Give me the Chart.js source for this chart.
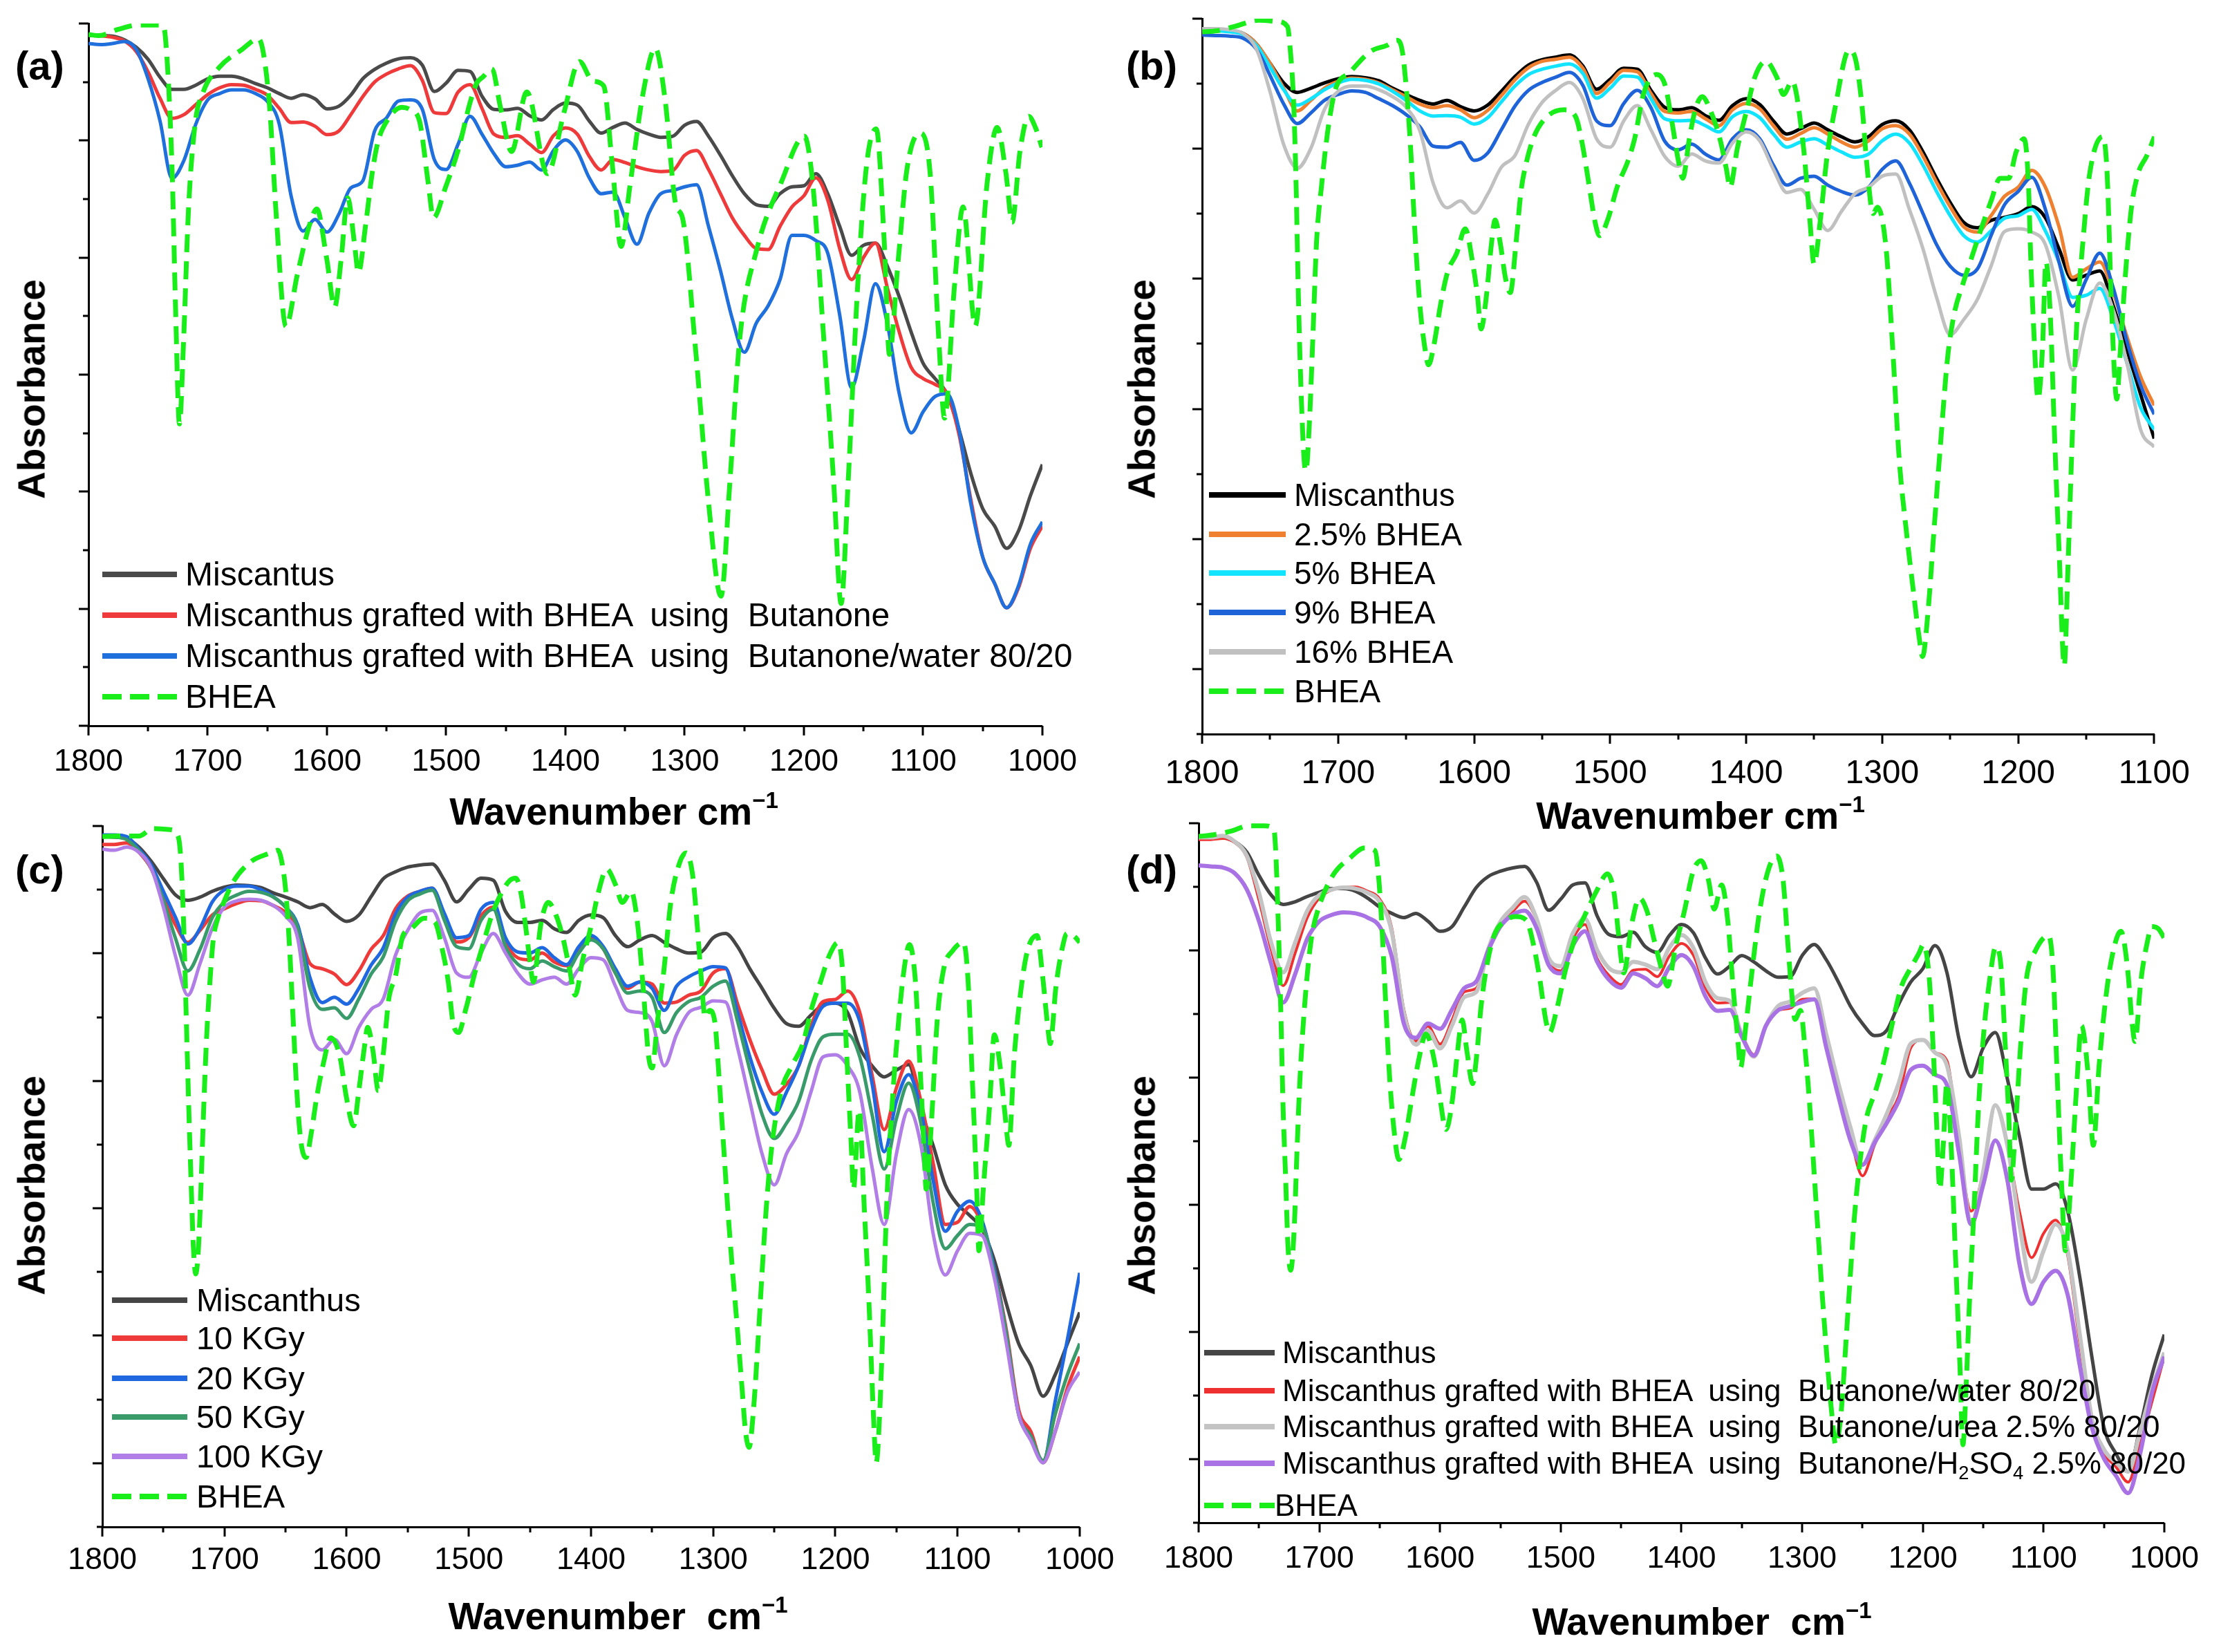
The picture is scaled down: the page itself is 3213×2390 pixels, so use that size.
<!DOCTYPE html>
<html>
<head>
<meta charset="utf-8">
<title>FTIR spectra of grafted Miscanthus</title>
<script src="https://cdn.jsdelivr.net/npm/chart.js@4.4.1/dist/chart.umd.min.js"></script>
<style>
  html, body { margin: 0; padding: 0; background: #fff; }
  body { position: relative; width: 3213px; height: 2390px; overflow: hidden;
         font-family: 'Liberation Sans', Arial, Helvetica, sans-serif; color: #000; }
  canvas { position: absolute; }
  .panel-label { position: absolute; font-weight: bold; font-size: 58px; line-height: 1; transform: translateY(-50%); }
  .x-title, .y-title { position: absolute; font-weight: bold; font-size: 55px; line-height: 1; white-space: pre; }
  .x-title { transform: translate(-50%, -50%); }
  .y-title { transform: translate(-50%, -50%) rotate(-90deg); }
  .x-title sup { font-size: 60%; position: relative; top: -0.15em; }
  .legend-row { position: absolute; display: flex; align-items: center; white-space: pre; line-height: 1; }
  .legend-row svg { flex: none; }
  .legend-row sub { font-size: 62%; vertical-align: -0.3em; line-height: 0; }
</style>
</head>
<body>
<canvas id="chartA"></canvas>
<canvas id="chartB"></canvas>
<canvas id="chartC"></canvas>
<canvas id="chartD"></canvas>

<div class="panel-label" style="left:22px;top:95px">(a)</div>
<div class="panel-label" style="left:1629px;top:95px">(b)</div>
<div class="panel-label" style="left:22px;top:1258px">(c)</div>
<div class="panel-label" style="left:1629px;top:1258px">(d)</div>

<div class="y-title" style="left:46px;top:563px">Absorbance</div>
<div class="y-title" style="left:1652px;top:563px">Absorbance</div>
<div class="y-title" style="left:46px;top:1715px">Absorbance</div>
<div class="y-title" style="left:1652px;top:1715px">Absorbance</div>

<div class="x-title" style="left:888px;top:1174px">Wavenumber cm<sup>−1</sup></div>
<div class="x-title" style="left:2460px;top:1180px">Wavenumber cm<sup>−1</sup></div>
<div class="x-title" style="left:894px;top:2338px">Wavenumber  cm<sup>−1</sup></div>
<div class="x-title" style="left:2462px;top:2346px">Wavenumber  cm<sup>−1</sup></div>

<script>
// wavenumber grid (cm-1) shared by the sample spectra
const wavenumbers = [1800, 1790, 1780, 1770, 1760, 1750, 1740, 1730, 1720, 1710,
  1700, 1690, 1680, 1670, 1660, 1650, 1640, 1630, 1620, 1610,
  1600, 1590, 1580, 1570, 1560, 1550, 1540, 1530, 1520, 1510,
  1500, 1490, 1480, 1470, 1460, 1450, 1440, 1430, 1420, 1410,
  1400, 1390, 1380, 1370, 1360, 1350, 1340, 1330, 1320, 1310,
  1300, 1290, 1280, 1270, 1260, 1250, 1240, 1230, 1220, 1210,
  1200, 1190, 1180, 1170, 1160, 1150, 1140, 1130, 1120, 1110,
  1100, 1090, 1080, 1070, 1060, 1050, 1040, 1030, 1020, 1010, 1000];
const wavenumbersB = wavenumbers.filter(w => w >= 1100);

// x tick labels
const tickLabels = [1800, 1700, 1600, 1500, 1400, 1300, 1200, 1100, 1000];

// ---- (a) solvent series (absorbance, arbitrary units) ----
const miscantusA = [131.0, 131.0, 130.9, 130.2, 128.8, 126.5, 123.1, 120.8, 120.8, 121.6,
  122.8, 123.3, 123.3, 122.8, 121.9, 121.1, 120.0, 119.1, 119.8, 119.0,
  117.1, 117.6, 119.7, 122.8, 124.6, 125.8, 126.6, 126.8, 125.4, 120.4,
  122.0, 124.4, 124.2, 119.5, 117.0, 116.9, 117.2, 115.8, 115.0, 117.0,
  118.2, 117.8, 114.8, 112.5, 113.6, 114.4, 113.2, 112.3, 111.7, 111.9,
  114.0, 114.7, 111.9, 108.3, 104.4, 101.0, 98.9, 98.6, 101.0, 102.3,
  102.5, 104.8, 101.0, 94.8, 89.3, 91.2, 91.6, 87.2, 81.4, 74.7,
  68.8, 65.9, 63.0, 56.3, 47.9, 41.2, 37.9, 33.7, 37.0, 43.7, 49.6];
const butanoneA = [131.2, 131.0, 130.7, 130.0, 128.0, 124.1, 119.1, 115.3, 116.0, 117.9,
  119.8, 121.1, 121.7, 121.6, 120.8, 119.7, 117.2, 114.5, 114.6, 113.8,
  112.2, 112.9, 116.0, 119.4, 122.2, 123.7, 124.7, 125.3, 122.5, 116.4,
  116.2, 120.3, 121.7, 117.2, 112.3, 111.7, 112.0, 110.4, 108.8, 112.0,
  113.5, 112.3, 108.1, 105.5, 107.5, 106.9, 106.1, 105.5, 105.2, 105.4,
  108.3, 109.2, 105.6, 101.0, 96.4, 93.1, 90.6, 90.4, 94.8, 98.5,
  100.6, 104.0, 99.8, 90.6, 84.7, 88.9, 91.6, 83.1, 74.7, 68.0,
  65.9, 64.8, 63.0, 55.4, 42.9, 32.0, 27.0, 22.4, 26.2, 33.7, 37.9];
const butanoneWaterA = [129.5, 129.3, 129.5, 129.9, 128.4, 122.8, 114.8, 103.9, 107.3, 114.2,
  118.8, 120.0, 120.7, 120.7, 120.0, 118.5, 114.2, 100.5, 93.9, 96.1,
  93.7, 97.1, 102.1, 103.4, 112.9, 115.4, 118.6, 118.8, 117.0, 107.5,
  105.6, 110.4, 115.7, 112.3, 108.6, 106.1, 106.4, 107.0, 105.5, 109.2,
  111.2, 109.0, 104.0, 101.0, 101.3, 96.4, 91.4, 97.3, 101.0, 101.6,
  102.3, 102.7, 94.8, 86.4, 77.2, 70.9, 76.4, 79.7, 84.7, 93.1,
  93.1, 92.1, 89.7, 78.0, 64.2, 73.0, 83.9, 76.3, 63.0, 55.6,
  59.6, 62.5, 63.0, 56.3, 42.1, 32.0, 27.0, 22.4, 26.6, 34.5, 38.7];
// BHEA reference spectrum as [wavenumber, absorbance]
const bheaA = [[1800, 131.2], [1791, 131.0], [1775, 132.2], [1758, 133.0], [1739, 133.0], [1736.5, 132.4],
  [1734.3, 127.2], [1732.4, 119.7], [1729.7, 104.2], [1727, 79.5], [1723.7, 57.3], [1720.2, 73.3],
  [1716.1, 98.1], [1710.6, 114.2], [1703.8, 120.3], [1690.2, 125.0], [1671.1, 128.4], [1657.5, 130.4],
  [1653.4, 127.8], [1648, 117.2], [1642.5, 96.8], [1634.4, 75.8], [1624.8, 85.7], [1613.9, 95.6],
  [1608.5, 98.1], [1600.3, 88.8], [1593.5, 79.5], [1588, 88.8], [1582.6, 100.2], [1577.1, 91.9],
  [1573.6, 86.0], [1567.6, 95.0], [1562, 105.0], [1557.4, 110.7], [1551.8, 114.0], [1537.1, 117.4],
  [1529.8, 116.9], [1522.4, 114.8], [1515.1, 103.1], [1510.7, 96.4], [1500.4, 102.3], [1489.3, 109.8],
  [1480.1, 118.2], [1474.6, 121.9], [1469, 123.2], [1461.8, 124.7], [1454.4, 117.3], [1445.2, 109.0],
  [1432.4, 120.3], [1415.1, 104.8], [1401.1, 116.5], [1388.2, 126.1], [1377.2, 122.4], [1368, 121.5],
  [1360.7, 106.5], [1353.3, 91.0], [1346, 102.3], [1335, 119.9], [1324.6, 128.6], [1316.5, 119.0],
  [1307.4, 98.9], [1301.8, 96.4], [1290.8, 71.3], [1279.8, 42.0], [1269.5, 24.6], [1262.1, 46.2],
  [1254, 73.0], [1239.3, 90.6], [1219.1, 103.1], [1199.6, 111.9], [1192.3, 102.3], [1184.2, 76.3],
  [1175, 46.2], [1168.8, 23.2], [1162.9, 46.2], [1154.8, 83.9], [1147.4, 106.5], [1139.3, 113.3],
  [1132.7, 92.2], [1128.3, 70.5], [1121, 88.1], [1113.6, 105.6], [1102.6, 112.5], [1094.1, 104.8],
  [1086.8, 73.0], [1082, 58.4], [1073.9, 83.0], [1066.5, 98.5], [1056.3, 75.9], [1046.3, 103.1],
  [1037.9, 113.6], [1030.5, 104.8], [1025.4, 95.6], [1018.8, 109.0], [1011.4, 115.7], [1005.9, 113.6],
  [1000.4, 109.8]];

// ---- (b) BHEA loading series ----
const miscanthusB = [133.7, 133.7, 133.5, 133.0, 131.0, 127.3, 123.6, 121.8, 122.6, 123.6,
  124.4, 124.8, 124.6, 124.0, 122.6, 121.4, 120.3, 119.6, 120.3, 119.1,
  118.3, 119.4, 122.0, 124.8, 127.0, 128.0, 128.5, 128.9, 126.8, 122.4,
  124.3, 126.4, 126.2, 122.2, 119.0, 118.5, 118.9, 117.4, 116.5, 119.3,
  120.6, 119.5, 116.4, 113.9, 114.9, 116.0, 114.7, 113.4, 112.4, 113.4,
  115.7, 116.4, 114.7, 110.5, 105.5, 100.9, 97.1, 96.1, 97.5, 98.1,
  98.8, 100.1, 98.0, 92.1, 86.2, 87.1, 87.9, 81.2, 72.9, 64.5, 56.1];
const bhea25B = [133.7, 133.7, 133.5, 133.0, 131.0, 127.3, 122.6, 118.3, 120.3, 122.6,
  123.9, 124.5, 124.3, 123.6, 122.3, 121.0, 119.6, 118.9, 119.3, 118.5,
  117.0, 118.4, 121.2, 124.2, 126.5, 127.7, 128.1, 128.5, 126.4, 121.6,
  123.7, 126.0, 125.7, 121.6, 118.2, 117.9, 118.2, 116.8, 115.5, 118.5,
  119.7, 118.7, 115.5, 112.9, 114.0, 115.1, 113.9, 112.4, 111.4, 112.6,
  114.9, 115.5, 113.9, 109.7, 104.7, 100.1, 96.3, 95.3, 98.4, 102.1,
  103.8, 107.0, 103.8, 96.3, 86.7, 88.3, 89.6, 83.7, 75.4, 67.8, 62.4];
const bhea5B = [133.5, 133.5, 133.3, 132.8, 130.7, 126.6, 122.3, 119.4, 120.6, 122.3,
  123.6, 124.3, 124.1, 123.4, 122.0, 120.3, 118.3, 117.3, 117.4, 117.1,
  115.8, 117.0, 120.0, 123.0, 125.2, 126.2, 126.8, 127.2, 125.4, 120.7,
  122.6, 124.9, 124.7, 120.6, 116.8, 116.4, 116.5, 115.5, 114.3, 117.2,
  118.2, 117.0, 113.9, 111.4, 112.4, 113.0, 111.8, 110.5, 109.5, 110.1,
  112.6, 113.9, 112.2, 108.0, 103.0, 98.4, 94.6, 93.4, 95.5, 97.9,
  98.4, 99.6, 95.5, 89.6, 82.9, 83.3, 84.6, 78.7, 70.4, 62.0, 57.8];
const bhea9B = [132.7, 132.6, 132.5, 132.1, 130.0, 125.0, 119.6, 115.9, 117.9, 120.3,
  121.4, 122.1, 121.8, 120.6, 119.3, 117.6, 115.3, 111.6, 111.4, 112.3,
  108.9, 110.3, 114.7, 119.2, 122.2, 123.7, 124.7, 125.6, 123.1, 116.4,
  115.5, 119.7, 122.2, 118.9, 112.6, 110.9, 112.0, 110.1, 109.0, 113.0,
  114.7, 113.0, 108.0, 104.2, 105.5, 105.9, 104.2, 103.0, 102.3, 103.8,
  107.2, 108.8, 104.6, 98.8, 92.9, 88.8, 87.1, 88.3, 94.6, 100.5,
  103.0, 105.7, 99.6, 89.6, 81.2, 86.3, 91.3, 84.6, 74.5, 66.2, 60.7];
const bhea16B = [133.9, 133.9, 133.7, 133.0, 130.0, 121.9, 111.9, 107.4, 111.2, 118.6,
  122.0, 123.0, 123.0, 122.3, 121.0, 119.0, 114.6, 104.5, 99.9, 101.2,
  98.9, 102.5, 107.6, 109.8, 115.8, 119.9, 122.2, 123.7, 120.6, 113.0,
  111.4, 116.4, 119.3, 114.7, 109.7, 107.8, 110.1, 108.8, 108.4, 112.2,
  114.3, 112.6, 107.2, 102.8, 103.4, 99.6, 95.6, 99.2, 102.6, 103.8,
  105.9, 106.3, 99.6, 92.1, 82.9, 75.8, 78.7, 82.5, 88.8, 95.4,
  95.9, 95.3, 92.9, 82.9, 69.1, 78.7, 85.6, 80.4, 70.4, 57.8, 54.5];
const bheaB = [[1800, 133.3], [1789, 133.5], [1776.3, 134.3], [1758.3, 135.5], [1745.5, 135.3], [1737.2, 134.3],
  [1735.2, 130.0], [1732.6, 119.3], [1730.8, 103.2], [1729.2, 83.1], [1727.4, 66.4], [1724.9, 51.7],
  [1723.6, 50.0], [1721, 59.7], [1718.4, 76.4], [1715.9, 93.2], [1712, 104.5], [1708.9, 111.9],
  [1705.6, 117.9], [1701.7, 122.6], [1691.4, 125.6], [1676, 129.6], [1664.4, 130.7], [1656.7, 131.7],
  [1652.8, 129.6], [1649, 119.9], [1646.4, 109.9], [1643.8, 96.5], [1640, 81.8], [1636.1, 73.1],
  [1633.5, 70.1], [1629.6, 73.8], [1624.5, 81.8], [1619.4, 87.8], [1612.9, 91.2], [1606.5, 95.9],
  [1601.3, 89.8], [1597.5, 83.1], [1594.9, 76.9], [1591, 83.1], [1587.2, 93.2], [1584.6, 97.6],
  [1580.8, 93.2], [1576.9, 86.5], [1573.4, 83.8], [1569.2, 93.2], [1565.5, 103.1], [1561.5, 108.6],
  [1556, 113.4], [1546.4, 117.2], [1533.5, 118.5], [1525.4, 117.2], [1520.6, 112.2], [1515.8, 104.7],
  [1511, 97.1], [1507.8, 94.6], [1501.3, 98.0], [1494.9, 103.8], [1486.9, 108.8], [1482, 113.0],
  [1475.6, 121.4], [1465.9, 125.2], [1459.5, 123.1], [1454.7, 116.4], [1449.8, 108.8], [1446.6, 105.5],
  [1441.8, 113.0], [1437, 118.9], [1432.2, 121.0], [1425.7, 118.0], [1419.3, 113.0], [1414.5, 107.2],
  [1411.9, 103.8], [1406.4, 111.3], [1400, 118.0], [1393.6, 124.7], [1385.5, 127.7], [1377.5, 124.7],
  [1372.6, 121.4], [1366.2, 123.9], [1358.2, 112.2], [1353.3, 98.0], [1350.1, 89.2], [1345.3, 98.0],
  [1340.5, 109.7], [1334, 119.7], [1324.4, 129.8], [1319.6, 128.1], [1314.7, 118.9], [1311.5, 108.8],
  [1306.7, 98.8], [1303.5, 100.0], [1297.1, 92.1], [1292.2, 72.9], [1287.4, 51.9], [1282.6, 39.4],
  [1277.7, 28.5], [1272.9, 18.5], [1270.3, 14.7], [1266.5, 22.6], [1261.7, 39.4], [1256.8, 56.1],
  [1252, 71.2], [1247.2, 79.6], [1240.7, 85.4], [1234.3, 90.4], [1227.9, 95.4], [1219.8, 101.3],
  [1213.4, 105.5], [1207, 105.5], [1201.5, 110.5], [1195.7, 113.0], [1192.5, 104.7], [1190.9, 91.3],
  [1188.6, 77.0], [1185.4, 63.6], [1182.2, 72.9], [1179.6, 89.6], [1176.4, 79.6], [1173.2, 56.1],
  [1170, 35.2], [1166.1, 13.0], [1163.5, 31.0], [1160.3, 56.1], [1157.1, 77.0], [1152.3, 93.8],
  [1147.5, 106.3], [1137.8, 113.4], [1134.6, 106.3], [1131.4, 81.2], [1127.5, 63.6], [1124.9, 72.9],
  [1121.7, 85.4], [1116.9, 99.6], [1112, 106.3], [1105.6, 109.7], [1099.8, 113.4]];

// ---- (c) irradiation dose series ----
const miscanthusC = [131.0, 130.9, 130.6, 129.0, 126.3, 123.0, 119.9, 118.9, 119.5, 120.6,
  121.4, 121.8, 121.7, 121.3, 120.3, 119.5, 118.6, 117.5, 118.1, 116.3,
  114.9, 116.1, 119.6, 123.0, 124.3, 125.2, 125.6, 125.8, 122.7, 118.6,
  121.0, 123.1, 122.7, 116.8, 114.7, 114.7, 115.1, 113.5, 112.8, 115.1,
  116.1, 115.6, 112.2, 110.1, 111.4, 112.2, 110.9, 109.7, 108.9, 109.1,
  111.8, 112.6, 110.1, 105.9, 102.2, 98.4, 95.5, 95.0, 97.1, 99.1,
  99.4, 97.6, 90.9, 87.5, 85.4, 86.7, 87.7, 79.1, 72.4, 64.9,
  61.2, 59.1, 56.5, 50.7, 42.3, 34.8, 30.6, 24.8, 28.9, 34.8, 40.7];
const kgy10C = [129.5, 129.5, 129.8, 128.0, 124.9, 119.3, 114.2, 110.9, 113.2, 116.1,
  117.3, 118.3, 118.9, 118.8, 117.9, 116.6, 113.6, 106.9, 105.9, 104.9,
  102.9, 105.5, 109.6, 112.2, 117.3, 119.7, 120.6, 121.2, 116.0, 111.0,
  111.8, 116.0, 117.6, 111.0, 108.0, 107.6, 108.9, 107.2, 106.5, 109.7,
  111.8, 109.7, 105.1, 102.2, 103.4, 103.0, 99.4, 99.6, 100.9, 101.7,
  105.1, 105.9, 99.2, 92.5, 86.7, 82.1, 84.0, 87.5, 95.0, 99.7,
  100.1, 101.7, 97.6, 85.8, 75.4, 83.3, 88.4, 80.8, 69.1, 57.4,
  57.8, 60.8, 57.4, 49.0, 37.3, 22.3, 18.1, 12.2, 18.1, 26.4, 32.3];
const kgy20C = [131.3, 131.3, 131.0, 128.6, 125.6, 120.6, 115.6, 110.6, 113.6, 118.6,
  120.9, 121.6, 121.6, 120.9, 119.6, 117.6, 114.2, 104.2, 99.5, 100.5,
  99.2, 102.2, 106.6, 109.9, 116.3, 119.5, 120.6, 121.2, 116.4, 111.8,
  112.2, 117.2, 118.5, 111.8, 109.1, 108.9, 109.9, 108.0, 106.7, 110.1,
  112.2, 110.1, 105.9, 102.6, 103.4, 102.2, 98.0, 102.6, 104.4, 105.5,
  106.3, 106.1, 97.6, 89.2, 82.5, 78.3, 82.5, 87.5, 94.2, 98.8,
  99.4, 99.4, 95.9, 84.2, 71.2, 80.8, 85.8, 79.1, 65.8, 56.1,
  59.9, 61.8, 58.2, 49.0, 36.5, 21.4, 17.2, 12.2, 23.9, 35.6, 48.2];
const kgy50C = [131.0, 130.9, 130.4, 128.3, 125.0, 118.9, 111.6, 105.5, 109.6, 115.6,
  118.6, 119.9, 120.6, 120.4, 119.5, 117.6, 113.6, 102.2, 98.2, 98.5,
  96.5, 100.2, 104.9, 108.2, 114.9, 118.8, 120.1, 120.8, 115.1, 110.1,
  109.7, 115.1, 117.2, 110.1, 106.8, 105.9, 107.4, 106.3, 105.5, 108.9,
  111.4, 109.7, 105.1, 101.3, 101.7, 100.5, 93.8, 97.6, 99.7, 100.5,
  102.6, 103.6, 95.9, 86.7, 78.3, 73.7, 76.6, 80.8, 88.4, 93.0,
  93.5, 93.5, 89.2, 78.3, 67.9, 77.5, 84.2, 76.6, 61.6, 52.8,
  55.3, 57.4, 57.0, 48.2, 36.5, 21.4, 17.2, 12.6, 21.4, 28.9, 34.8];
const kgy100C = [128.6, 128.4, 129.0, 128.0, 125.0, 117.6, 108.2, 100.9, 106.9, 113.6,
  117.6, 118.8, 119.1, 118.9, 117.9, 115.9, 111.6, 94.8, 90.5, 92.5,
  89.8, 94.8, 98.2, 100.2, 108.5, 113.2, 116.5, 117.0, 111.8, 105.1,
  104.3, 108.9, 112.6, 108.9, 105.1, 103.0, 103.8, 104.3, 103.0, 105.9,
  108.0, 107.6, 102.6, 98.0, 97.6, 95.9, 87.5, 93.4, 97.6, 98.6,
  99.8, 99.6, 90.9, 80.8, 70.8, 64.9, 70.8, 75.0, 82.5, 89.2,
  89.6, 87.5, 82.5, 68.3, 57.4, 70.8, 79.2, 72.5, 55.7, 47.8,
  52.4, 55.7, 55.3, 47.4, 34.8, 21.4, 16.4, 12.2, 18.1, 25.6, 29.4];
const bheaC = [[1800, 131.0], [1787.5, 131.1], [1770, 131.1], [1758.7, 132.5], [1744.2, 132.3], [1737.9, 131.0],
  [1735.6, 126.3], [1733.3, 113.6], [1731.3, 96.8], [1729.3, 80.1], [1727.5, 66.7], [1725.5, 53.3],
  [1723.5, 48.0], [1721.2, 53.3], [1718.9, 66.7], [1716.9, 80.1], [1714.5, 93.5], [1711.9, 103.5],
  [1709.1, 111.6], [1705.3, 115.6], [1701, 118.3], [1692.3, 122.6], [1677.9, 126.3], [1663.5, 127.8],
  [1656.3, 128.4], [1652.6, 125.6], [1649.7, 120.3], [1646.8, 110.2], [1643.9, 96.8], [1641, 83.5],
  [1637.6, 73.4], [1633.2, 70.1], [1628.9, 74.8], [1624.6, 81.4], [1618.8, 88.2], [1613.1, 92.8],
  [1605.8, 89.5], [1600.1, 81.4], [1594.3, 76.1], [1590, 82.8], [1585.6, 90.8], [1582.8, 94.8],
  [1578.4, 90.2], [1574.1, 82.8], [1569.8, 90.2], [1565.5, 100.2], [1560, 104.5], [1554, 112.2],
  [1547.4, 113.5], [1536.6, 115.5], [1527.6, 114.7], [1522.2, 110.1], [1516.8, 103.4], [1513.1, 95.9],
  [1508.5, 93.8], [1502.3, 98.4], [1495.1, 105.1], [1487.9, 110.9], [1480.7, 116.4], [1473.5, 120.2],
  [1466.3, 122.7], [1461.6, 123.1], [1457.3, 120.2], [1453.7, 114.3], [1450.1, 107.6], [1447.2, 103.4],
  [1441.1, 114.3], [1435, 118.5], [1428.5, 116.0], [1423, 111.8], [1417.6, 105.9], [1413, 100.9],
  [1406.8, 107.6], [1399.6, 114.3], [1394.2, 120.2], [1387, 124.8], [1379.8, 121.8], [1374.4, 118.5],
  [1367.2, 120.6], [1361.8, 114.3], [1357.1, 101.7], [1352.8, 89.2], [1349.9, 87.1], [1345.6, 95.9],
  [1340.2, 105.9], [1334.7, 118.5], [1327.5, 126.0], [1322.1, 127.9], [1316.7, 123.5], [1313.1, 114.3],
  [1309.5, 103.4], [1306.6, 96.7], [1303, 98.0], [1298.7, 95.9], [1295.1, 85.0], [1291.5, 72.4],
  [1287.9, 59.9], [1284.3, 49.0], [1280.7, 39.0], [1276.4, 26.4], [1273.5, 18.1], [1270.6, 15.1],
  [1267, 22.2], [1263.4, 34.8], [1259.8, 49.0], [1256.2, 61.6], [1251.9, 72.4], [1244.6, 82.5],
  [1235.6, 87.5], [1226.6, 91.7], [1219.4, 98.4], [1212.2, 103.4], [1205, 108.4], [1197.8, 110.9],
  [1194.2, 105.9], [1190.6, 89.2], [1187, 72.4], [1185.2, 64.1], [1180.5, 79.1], [1176.2, 59.9],
  [1172.6, 43.2], [1169, 22.2], [1166.5, 12.2], [1163.6, 22.2], [1161, 39.0], [1158.2, 59.9],
  [1154.5, 76.6], [1149.2, 93.4], [1143.7, 105.9], [1139.4, 110.5], [1134.7, 104.2], [1131.1, 89.2],
  [1127.5, 72.4], [1125.7, 64.1], [1121.4, 76.6], [1116.7, 95.9], [1111.3, 105.9], [1104.1, 109.3],
  [1095.1, 110.9], [1091.5, 104.2], [1087.9, 85.0], [1084.3, 64.1], [1082.5, 52.4], [1078.9, 64.1],
  [1073.5, 80.8], [1069.9, 93.4], [1065.2, 87.5], [1060.8, 77.5], [1058, 72.4], [1053.6, 89.2],
  [1048.2, 101.7], [1042.8, 109.3], [1034.9, 112.2], [1030.2, 104.2], [1026.6, 95.9], [1024.1, 91.7],
  [1019.4, 102.6], [1014, 110.1], [1010.4, 112.6], [1005, 112.2], [1000, 110.9]];

// ---- (d) catalyst series ----
const miscanthusD = [130.2, 130.2, 130.0, 129.2, 127.2, 122.8, 119.1, 117.3, 117.8, 118.8,
  119.6, 120.3, 120.3, 119.8, 118.5, 116.8, 115.6, 114.8, 115.6, 114.1,
  112.2, 113.1, 116.8, 120.5, 122.6, 123.6, 124.2, 124.5, 121.5, 116.2,
  118.3, 121.0, 121.4, 115.2, 111.6, 111.2, 112.0, 109.3, 108.2, 111.4,
  113.5, 111.9, 107.1, 104.1, 105.6, 107.6, 106.4, 104.7, 103.5, 103.6,
  107.6, 109.7, 106.8, 102.6, 98.0, 94.7, 92.4, 93.4, 98.4, 102.6,
  105.1, 109.5, 104.3, 91.7, 84.6, 90.1, 93.0, 84.2, 73.3, 63.3,
  63.3, 64.3, 59.1, 46.6, 31.5, 18.1, 13.1, 9.7, 18.1, 28.2, 35.7];
const waterD = [129.6, 129.6, 129.8, 129.0, 126.2, 118.1, 108.8, 101.9, 108.1, 114.8,
  118.5, 120.0, 120.5, 120.6, 119.8, 118.3, 112.8, 97.4, 91.4, 94.2,
  90.8, 95.4, 100.7, 101.4, 109.0, 113.8, 115.9, 117.9, 114.3, 106.5,
  104.7, 110.8, 113.5, 107.1, 103.8, 102.1, 104.8, 105.0, 103.6, 107.5,
  109.9, 107.6, 101.4, 98.6, 98.7, 92.8, 88.8, 94.3, 97.2, 97.6,
  99.3, 99.4, 90.9, 82.5, 73.3, 65.8, 71.7, 76.7, 80.9, 90.1,
  91.6, 89.2, 87.6, 71.6, 59.1, 66.6, 79.2, 71.6, 59.1, 50.3,
  54.9, 57.4, 50.7, 34.0, 18.9, 13.1, 10.6, 7.7, 14.8, 23.1, 31.5];
const ureaD = [130.0, 130.0, 130.3, 129.2, 126.5, 119.5, 110.1, 104.4, 110.1, 116.1,
  119.1, 120.1, 120.5, 120.3, 119.5, 117.8, 112.1, 96.7, 90.7, 93.4,
  90.0, 94.4, 99.7, 100.7, 108.9, 114.0, 116.6, 118.7, 114.6, 107.1,
  105.6, 111.8, 114.6, 108.7, 105.2, 104.4, 106.4, 105.9, 105.0, 109.1,
  111.5, 109.0, 102.5, 99.5, 99.0, 92.5, 88.4, 94.3, 98.0, 98.9,
  100.5, 101.4, 92.6, 83.4, 75.0, 67.9, 72.5, 77.5, 83.4, 90.9,
  91.6, 89.2, 86.7, 73.3, 56.6, 66.6, 79.2, 71.6, 56.6, 45.7,
  51.6, 56.6, 51.6, 35.7, 19.8, 13.9, 11.4, 9.7, 17.3, 25.6, 32.3];
const sulfuricD = [124.7, 124.5, 124.3, 123.2, 120.1, 114.1, 106.1, 98.7, 104.1, 110.8,
  114.1, 115.3, 115.8, 115.6, 114.8, 113.1, 107.4, 94.7, 92.0, 94.7,
  93.7, 97.4, 101.4, 102.7, 108.6, 113.1, 115.3, 116.1, 112.8, 105.8,
  104.2, 109.5, 112.2, 106.5, 103.0, 101.5, 104.2, 103.3, 101.8, 105.4,
  107.7, 105.5, 99.8, 97.1, 97.3, 92.2, 88.6, 94.3, 97.2, 98.0,
  98.8, 99.3, 90.1, 80.9, 72.5, 67.9, 72.1, 75.8, 80.0, 85.9,
  86.7, 85.0, 83.0, 70.0, 56.6, 64.1, 72.5, 65.0, 49.1, 41.5,
  45.7, 47.8, 43.2, 29.8, 18.1, 12.2, 8.9, 5.6, 13.1, 24.8, 31.5];
const bheaD = [[1800, 130.2], [1787.7, 130.5], [1773.1, 131.2], [1758.6, 132.2], [1745.5, 132.2], [1737.6, 131.5],
  [1735.9, 126.2], [1733.9, 112.8], [1731.8, 96.0], [1730.1, 79.3], [1728, 65.9], [1726, 52.5],
  [1723.7, 47.9], [1720.8, 55.9], [1718.7, 69.3], [1716.4, 82.6], [1713.5, 94.0], [1709.7, 104.7],
  [1706.2, 111.4], [1700.4, 116.8], [1688.8, 122.8], [1674.2, 126.2], [1662.6, 128.0], [1653.9, 127.5],
  [1651, 122.8], [1648.1, 112.8], [1645.2, 99.4], [1642.2, 86.0], [1638.8, 76.0], [1634.1, 68.9],
  [1629.2, 72.6], [1623.3, 80.6], [1617.5, 88.0], [1611.7, 92.7], [1604.4, 87.3], [1600.1, 80.6],
  [1595.1, 74.6], [1589.9, 80.0], [1585.5, 89.4], [1581.7, 95.4], [1577.7, 89.4], [1573, 83.3],
  [1569.5, 89.0], [1566, 98.0], [1561, 106.0], [1555, 111.5], [1546, 114.2], [1537.5, 115.0],
  [1528.5, 114.3], [1523.1, 110.2], [1517.6, 103.5], [1512.2, 95.1], [1509.3, 93.0], [1503.1, 97.6],
  [1495.8, 105.1], [1486.7, 111.8], [1477.6, 116.4], [1470.4, 119.8], [1461.3, 123.1], [1455.8, 119.4],
  [1452.2, 111.8], [1447.8, 104.3], [1441.3, 113.5], [1434.7, 118.5], [1428.5, 116.0], [1423.1, 111.0],
  [1416.5, 105.1], [1411.5, 101.8], [1404.9, 109.3], [1397.6, 116.0], [1390.4, 123.5], [1383.8, 125.6],
  [1377.6, 121.9], [1372.9, 116.4], [1366.7, 121.0], [1361.3, 113.5], [1357.6, 102.6], [1353.3, 91.7],
  [1351.1, 86.3], [1346.7, 94.2], [1341.3, 105.1], [1335.8, 115.2], [1328.5, 123.5], [1321.3, 126.5],
  [1315.8, 121.9], [1312.2, 111.0], [1308.5, 100.1], [1306, 95.5], [1301.3, 97.2], [1297.7, 90.1],
  [1294, 80.0], [1290.4, 67.5], [1286.8, 54.9], [1283.1, 42.4], [1279.5, 31.5], [1275.8, 21.5],
  [1272.2, 14.8], [1267.5, 21.5], [1263.8, 34.0], [1260.2, 46.6], [1256.6, 58.3], [1252.2, 68.3],
  [1246.8, 76.7], [1239.5, 81.7], [1232.2, 87.6], [1224.9, 95.1], [1217.7, 101.8], [1210.4, 105.1],
  [1203.1, 108.1], [1199.5, 109.7], [1194.8, 103.5], [1191.1, 88.4], [1188.6, 75.8], [1186, 63.3],
  [1183.1, 71.6], [1180.2, 83.4], [1176.6, 71.6], [1173, 50.7], [1169.3, 29.8], [1166.8, 14.8],
  [1164.2, 25.6], [1161.3, 42.4], [1157.7, 59.1], [1154, 78.4], [1149.7, 92.6], [1144.9, 102.6],
  [1139.5, 109.3], [1135.1, 105.1], [1132.2, 92.6], [1128.6, 75.8], [1126.8, 65.0], [1123.1, 75.8],
  [1118.4, 92.6], [1114, 103.5], [1106.8, 108.5], [1095.8, 111.4], [1092.2, 105.1], [1088.6, 84.2],
  [1084.9, 63.3], [1082, 51.6], [1077.7, 63.3], [1072.2, 84.2], [1068.6, 94.3], [1063.1, 85.1],
  [1058.8, 71.6], [1054, 86.7], [1048.6, 99.3], [1043.1, 107.6], [1035.9, 112.2], [1030.4, 105.1],
  [1026.8, 95.1], [1024.2, 91.3], [1019.5, 102.6], [1014, 110.2], [1010.4, 113.1], [1005, 112.7],
  [1000.2, 111.0]];

const FONT = "'Liberation Sans', Arial, Helvetica, sans-serif";
const BHEA_GREEN = '#1aee1a';

// outward major / minor tick marks, placed with the chart's own scales
const tickMarks = {
    id: 'tickMarks',
    afterDraw(chart, args, opts) {
        const { ctx, chartArea: area } = chart;
        const x = chart.scales.x, y = chart.scales.y;
        ctx.save();
        ctx.strokeStyle = '#000';
        ctx.lineWidth = 3;
        ctx.beginPath();
        const step = y.max / opts.yDivisions;
        for (let k = 0; k <= opts.yDivisions; k++) {
            const py = Math.round(y.getPixelForValue(k * step));
            const len = k % 2 === opts.majorParity ? 14 : 8;
            ctx.moveTo(area.left, py);
            ctx.lineTo(area.left - len, py);
        }
        for (let w = x.min; w <= x.max; w += 50) {
            const px = Math.round(x.getPixelForValue(w));
            const len = w % 100 === 0 ? 14 : 8;
            ctx.moveTo(px, area.bottom);
            ctx.lineTo(px, area.bottom + len);
        }
        ctx.stroke();
        ctx.restore();
    }
};

function line(label, xs, ys, color, extra) {
    return Object.assign({ label: label, x: xs, y: ys, color: color }, extra || {});
}
function bhea(pairs) {
    return line('BHEA', pairs.map(p => p[0]), pairs.map(p => p[1]), BHEA_GREEN, { dashed: true });
}

// one spectrum panel; plot = wanted position of the plotting area on the page
function spectrumPanel(id, plot, xMin, yMax, yDivisions, majorParity, series, tickSize, tickPad) {
    const AXIS_W = 120, AXIS_H = 110, PAD_T = 20, PAD_R = 70;
    const canvas = document.getElementById(id);
    canvas.width = plot.right - plot.left + AXIS_W + PAD_R;
    canvas.height = plot.bottom - plot.top + PAD_T + AXIS_H;
    canvas.style.left = (plot.left - AXIS_W) + 'px';
    canvas.style.top = (plot.top - PAD_T) + 'px';
    const n = series.length;

    return new Chart(canvas, {
        type: 'line',
        data: {
            datasets: series.map((s, i) => ({
                label: s.label,
                data: s.x.map((w, j) => ({ x: w, y: s.y[j] })),
                borderColor: s.color,
                borderWidth: s.dashed ? 7 : (s.width || 5),
                borderDash: s.dashed ? [26, 13] : [],
                borderJoinStyle: 'round',
                pointRadius: 0,
                fill: false,
                cubicInterpolationMode: 'monotone',
                order: n - i
            }))
        },
        options: {
            responsive: false,
            animation: false,
            devicePixelRatio: 1,
            layout: { padding: { left: 0, top: PAD_T, right: PAD_R, bottom: 0 } },
            plugins: {
                legend: { display: false },
                tooltip: { enabled: false },
                tickMarks: { yDivisions: yDivisions, majorParity: majorParity }
            },
            scales: {
                x: {
                    type: 'linear',
                    reverse: true,
                    min: xMin,
                    max: 1800,
                    border: { display: true, color: '#000', width: 3 },
                    grid: { display: false, drawTicks: false },
                    afterBuildTicks: scale => {
                        scale.ticks = tickLabels.filter(v => v >= xMin).map(v => ({ value: v }));
                    },
                    ticks: {
                        autoSkip: false,
                        maxRotation: 0,
                        padding: tickPad,
                        color: '#000',
                        font: { family: FONT, size: tickSize },
                        callback: v => String(v)
                    },
                    afterFit: scale => { scale.height = AXIS_H; }
                },
                y: {
                    type: 'linear',
                    min: 0,
                    max: yMax,
                    border: { display: true, color: '#000', width: 3 },
                    grid: { display: false, drawTicks: false },
                    ticks: { display: false },
                    afterFit: scale => { scale.width = AXIS_W; }
                }
            }
        },
        plugins: [tickMarks]
    });
}

// legend drawn as page text next to a short line sample
function legend(series, cfg) {
    series.forEach((s, i) => {
        const row = document.createElement('div');
        row.className = 'legend-row';
        row.style.left = cfg.x + 'px';
        row.style.top = (cfg.rows[i] - cfg.size * 0.6) + 'px';
        row.style.height = (cfg.size * 1.2) + 'px';
        row.style.fontSize = cfg.size + 'px';
        const dash = s.dashed ? ' stroke-dasharray="28 12"' : '';
        const gap = s.dashed && cfg.bheaGap !== undefined ? cfg.bheaGap : cfg.gap;
        row.innerHTML = '<svg width="' + cfg.len + '" height="16"><line x1="0" y1="8" x2="' + cfg.len +
            '" y2="8" stroke="' + s.color + '" stroke-width="8"' + dash + '/></svg>' +
            '<span style="margin-left:' + gap + 'px">' + (s.html || s.label) + '</span>';
        document.body.appendChild(row);
    });
}

// (a) grafting in different solvents
const seriesA = [
    line('Miscantus', wavenumbers, miscantusA, '#4a4a4a'),
    line('Miscanthus grafted with BHEA  using  Butanone', wavenumbers, butanoneA, '#ee3a3a'),
    line('Miscanthus grafted with BHEA  using  Butanone/water 80/20', wavenumbers, butanoneWaterA, '#1f6fdc'),
    bhea(bheaA)
];
spectrumPanel('chartA', { left: 128, top: 34, right: 1514, bottom: 1050 }, 1000, 133.3, 12, 0, seriesA, 45, 26);
legend(seriesA, { x: 148, len: 108, gap: 12, size: 48, rows: [831, 890, 949, 1008] });

// (b) BHEA loading
const seriesB = [
    line('Miscanthus', wavenumbersB, miscanthusB, '#000000'),
    line('2.5% BHEA', wavenumbersB, bhea25B, '#ee8030'),
    line('5% BHEA', wavenumbersB, bhea5B, '#12e4ff'),
    line('9% BHEA', wavenumbersB, bhea9B, '#1e64d8'),
    line('16% BHEA', wavenumbersB, bhea16B, '#c0c0c0'),
    bhea(bheaB)
];
spectrumPanel('chartB', { left: 1739, top: 27, right: 3127, bottom: 1062 }, 1100, 135.8, 11, 1, seriesB, 48, 29);
legend(seriesB, { x: 1749, len: 111, gap: 12, size: 46, rows: [716, 773, 829, 886, 943, 1000] });

// (c) irradiation dose
const seriesC = [
    line('Miscanthus', wavenumbers, miscanthusC, '#454545'),
    line('10 KGy', wavenumbers, kgy10C, '#ef3a3a'),
    line('20 KGy', wavenumbers, kgy20C, '#1f68e0'),
    line('50 KGy', wavenumbers, kgy50C, '#3a9b6a'),
    line('100 KGy', wavenumbers, kgy100C, '#b07ee6'),
    bhea(bheaC)
];
spectrumPanel('chartC', { left: 148, top: 1195, right: 1564, bottom: 2209 }, 1000, 133.0, 11, 1, seriesC, 45, 22);
legend(seriesC, { x: 162, len: 109, gap: 13, size: 47, rows: [1881, 1936, 1994, 2050, 2107, 2165] });

// (d) catalyst in the grafting medium
const seriesD = [
    line('Miscanthus', wavenumbers, miscanthusD, '#454545'),
    line('Miscanthus grafted with BHEA  using  Butanone/water 80/20', wavenumbers, waterD, '#ee3030', { width: 4 }),
    line('Miscanthus grafted with BHEA  using  Butanone/urea 2.5% 80/20', wavenumbers, ureaD, '#c4c4c4', { width: 6 }),
    line('Miscanthus grafted with BHEA  using  Butanone/H\u2082SO\u2084 2.5% 80/20', wavenumbers, sulfuricD, '#a872e4', { width: 6,
        html: 'Miscanthus grafted with BHEA  using  Butanone/H<sub>2</sub>SO<sub>4</sub> 2.5% 80/20' }),
    bhea(bheaD)
];
spectrumPanel('chartD', { left: 1734, top: 1191, right: 3137, bottom: 2203 }, 1000, 132.7, 11, 1, seriesD, 45, 26);
legend(seriesD, { x: 1742, len: 102, gap: 11, bheaGap: 0, size: 44, rows: [1957, 2012, 2064, 2117, 2178] });
</script>
</body>
</html>
